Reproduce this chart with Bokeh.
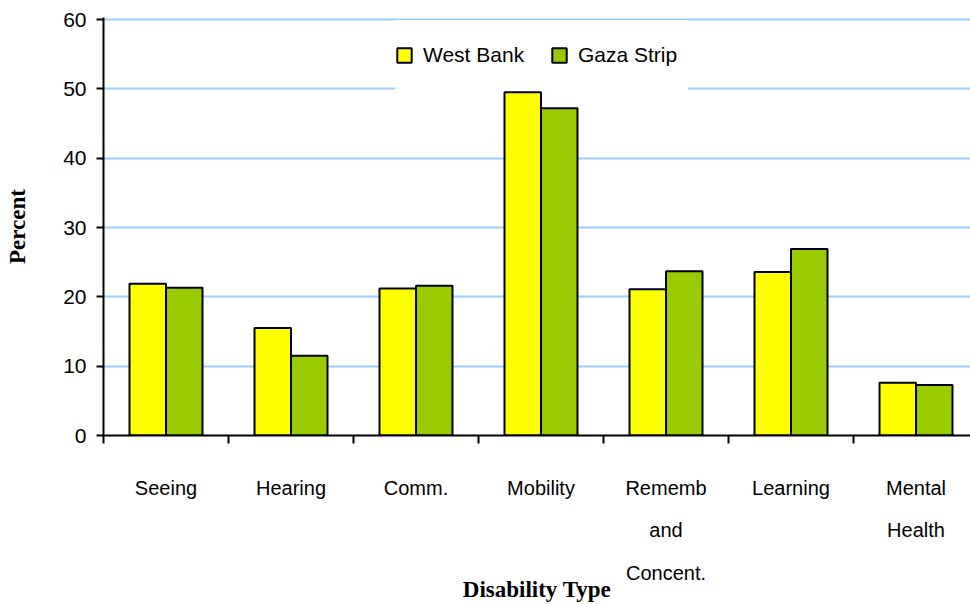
import numpy as np
from bokeh.plotting import figure
from bokeh.models import (ColumnDataSource, Range1d, FixedTicker, Legend,
                          LegendItem, CustomJSTickFormatter)
from bokeh.transform import dodge
from bokeh.embed import file_html
from bokeh.resources import INLINE

# ---- data ----
categories = ["Seeing", "Hearing", "Comm.", "Mobility", "Rememb\nand\nConcent.",
              "Learning", "Mental\nHealth"]
west_bank = [21.9, 15.5, 21.2, 49.5, 21.1, 23.6, 7.6]
gaza_strip = [21.3, 11.5, 21.6, 47.2, 23.7, 26.9, 7.3]
series_names = ["West Bank", "Gaza Strip"]
y_ticks = [0, 10, 20, 30, 40, 50, 60]
x_title = "Disability Type"
y_title = "Percent"

SANS = "Liberation Sans"
SERIF = "Liberation Serif"
n = len(categories)
centers = [i + 0.5 for i in range(n)]
bounds = list(range(n + 1))

p = figure(width=970, height=604,
           x_range=Range1d(0, 867 / 125), y_range=Range1d(0, 60.3),
           output_backend="svg", toolbar_location=None,
           min_border_left=103, min_border_right=0,
           min_border_top=17, min_border_bottom=168)
p.outline_line_color = None
p.background_fill_color = "white"
p.border_fill_color = "white"

src = ColumnDataSource(dict(center=centers, wb=west_bank, gs=gaza_strip))
bw = 0.292
r1 = p.vbar(x=dodge("center", -bw / 2), top="wb", width=bw, source=src,
            fill_color="#FFFF00", line_color="black", line_width=2)
r2 = p.vbar(x=dodge("center", bw / 2), top="gs", width=bw, source=src,
            fill_color="#99CC00", line_color="black", line_width=2)

# x axis: category labels at centres, boundary ticks as minor ticks
xa = p.xaxis[0]
xa.ticker = FixedTicker(ticks=centers, minor_ticks=bounds)
xa.formatter = CustomJSTickFormatter(args=dict(labels=categories),
                                     code="return labels[Math.floor(tick)];")
xa.axis_line_width = 2
xa.axis_line_color = "black"
xa.major_tick_in = 0
xa.major_tick_out = 0
xa.major_tick_line_color = None
xa.minor_tick_in = 0
xa.minor_tick_out = 8
xa.minor_tick_line_width = 2
xa.minor_tick_line_color = "black"
xa.major_label_standoff = 33
xa.major_label_text_font = SANS
xa.major_label_text_font_size = "20px"
xa.major_label_text_line_height = 1.94
xa.major_label_text_color = "black"
xa.axis_label = x_title
xa.axis_label_text_font = SERIF
xa.axis_label_text_font_style = "bold"
xa.axis_label_text_font_size = "23px"
xa.axis_label_text_color = "black"
xa.axis_label_standoff = -10

ya = p.yaxis[0]
ya.ticker = FixedTicker(ticks=y_ticks)
ya.axis_line_width = 2
ya.axis_line_color = "black"
ya.major_tick_in = 0
ya.major_tick_out = 7
ya.major_tick_line_width = 2
ya.minor_tick_line_color = None
ya.major_label_standoff = 10
ya.major_label_text_font = SANS
ya.major_label_text_font_size = "21px"
ya.major_label_text_color = "black"
ya.axis_label = y_title
ya.axis_label_text_font = SERIF
ya.axis_label_text_font_style = "bold"
ya.axis_label_text_font_size = "23px"
ya.axis_label_text_color = "black"
ya.axis_label_standoff = 30

p.xgrid.visible = False
p.ygrid.ticker = FixedTicker(ticks=y_ticks[1:])
p.ygrid.grid_line_color = "#99CCFF"
p.ygrid.grid_line_width = 2

legend = Legend(items=[LegendItem(label=series_names[0], renderers=[r1]),
                       LegendItem(label=series_names[1], renderers=[r2])],
                location=(292, 345), orientation="horizontal",
                background_fill_color="white", background_fill_alpha=1.0,
                border_line_color=None, padding=2, spacing=17, label_standoff=10,
                glyph_width=18, glyph_height=18, label_height=70, label_width=110,
                margin=0,
                label_text_font=SANS, label_text_font_size="21px",
                label_text_color="black")
p.add_layout(legend)

open("out.html", "w").write(file_html(p, INLINE))
